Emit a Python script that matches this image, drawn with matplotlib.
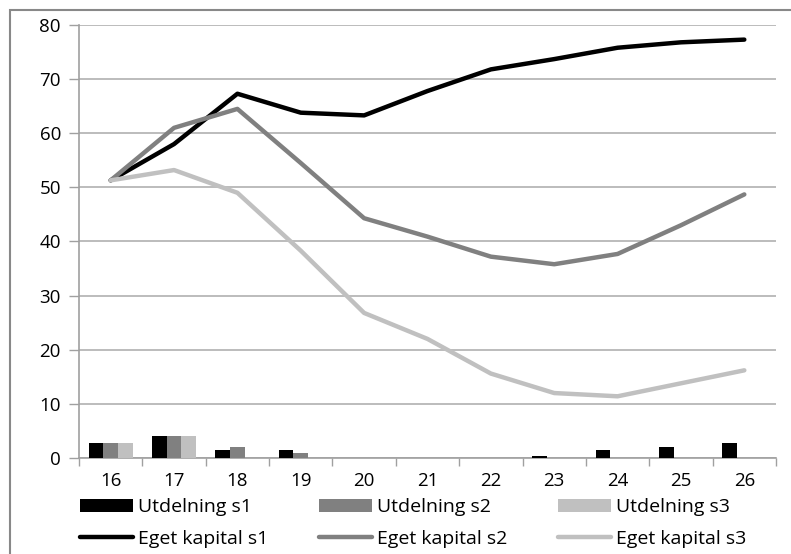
import numpy as np
import matplotlib.pyplot as plt
from matplotlib.patches import Rectangle

years = ['16', '17', '18', '19', '20', '21', '22', '23', '24', '25', '26']

utd_s1 = [2.8, 4.0, 1.4, 1.4, 0, 0, 0, 0.3, 1.4, 2.1, 2.8]
utd_s2 = [2.8, 4.0, 2.1, 0.9, 0, 0, 0, 0, 0, 0, 0]
utd_s3 = [2.8, 4.0, 0, 0, 0, 0, 0, 0, 0, 0, 0]

ek_s1 = [51.3, 58.0, 67.3, 63.8, 63.3, 67.8, 71.8, 73.7, 75.8, 76.8, 77.3]
ek_s2 = [51.3, 61.0, 64.5, 54.5, 44.3, 40.9, 37.2, 35.8, 37.7, 43.0, 48.7]
ek_s3 = [51.3, 53.2, 49.0, 38.3, 26.8, 22.0, 15.6, 12.0, 11.4, 13.8, 16.2]

plt.rcParams['font.family'] = ['Open Sans', 'DejaVu Sans']
fig = plt.figure(figsize=(7.91, 5.54), dpi=100)
ax = fig.add_axes([79 / 791, 1 - 458 / 554, 697 / 791, 433 / 554])

colors = ['#000000', '#808080', '#c0c0c0']
x = np.arange(len(years))
w = 0.232
bars = []
for k, (vals, c, lbl) in enumerate(zip([utd_s1, utd_s2, utd_s3], colors,
                                       ['Utdelning s1', 'Utdelning s2', 'Utdelning s3'])):
    b = ax.bar(x + (k - 1) * w, vals, width=w, color=c, label=lbl, zorder=3)
    bars.append(b)

lines = []
for vals, c, lbl in zip([ek_s1, ek_s2, ek_s3], colors,
                        ['Eget kapital s1', 'Eget kapital s2', 'Eget kapital s3']):
    ln, = ax.plot(x, vals, color=c, lw=3.2, label=lbl, zorder=4,
                  solid_capstyle='round', solid_joinstyle='round')
    lines.append(ln)

fs = 13.5
ax.set_xlim(-0.5, len(years) - 0.5)
ax.set_ylim(0, 80)
ax.set_yticks(range(0, 81, 10))
ax.set_xticks(x)
ax.set_xticklabels(years)
ax.set_xticks(np.arange(-0.5, len(years), 1), minor=True)
ax.tick_params(axis='x', which='major', length=0, pad=10, labelsize=fs)
ax.tick_params(axis='x', which='minor', length=6, color='#a0a0a0', width=1)
ax.tick_params(axis='y', length=7, color='#a0a0a0', width=1, labelsize=fs, pad=6)
ax.grid(axis='y', color='#b0b0b0', lw=1.2, zorder=0)
for s in ['top', 'right']:
    ax.spines[s].set_visible(False)
ax.spines['left'].set_color('#a0a0a0')
ax.spines['bottom'].set_color('#a0a0a0')
ax.spines['left'].set_linewidth(1.2)
ax.spines['bottom'].set_linewidth(1.2)

handles = [bars[0], lines[0], bars[1], lines[1], bars[2], lines[2]]
labels = [h.get_label() for h in handles]
fig.legend(handles, labels, ncol=3, loc='upper left',
           bbox_to_anchor=(80 / 791, 1 - 498 / 554), frameon=False,
           fontsize=14, handlelength=2.73, handleheight=0.65, handletextpad=0.26,
           columnspacing=2.6, labelspacing=0.72, borderpad=0, borderaxespad=0)

fig.patches.append(Rectangle((10 / 791, -0.1), 1.2, 1 - 10 / 554 + 0.1,
                             transform=fig.transFigure, fill=False,
                             edgecolor='#888888', lw=1.5))

fig.savefig('out.png', dpi=100)
